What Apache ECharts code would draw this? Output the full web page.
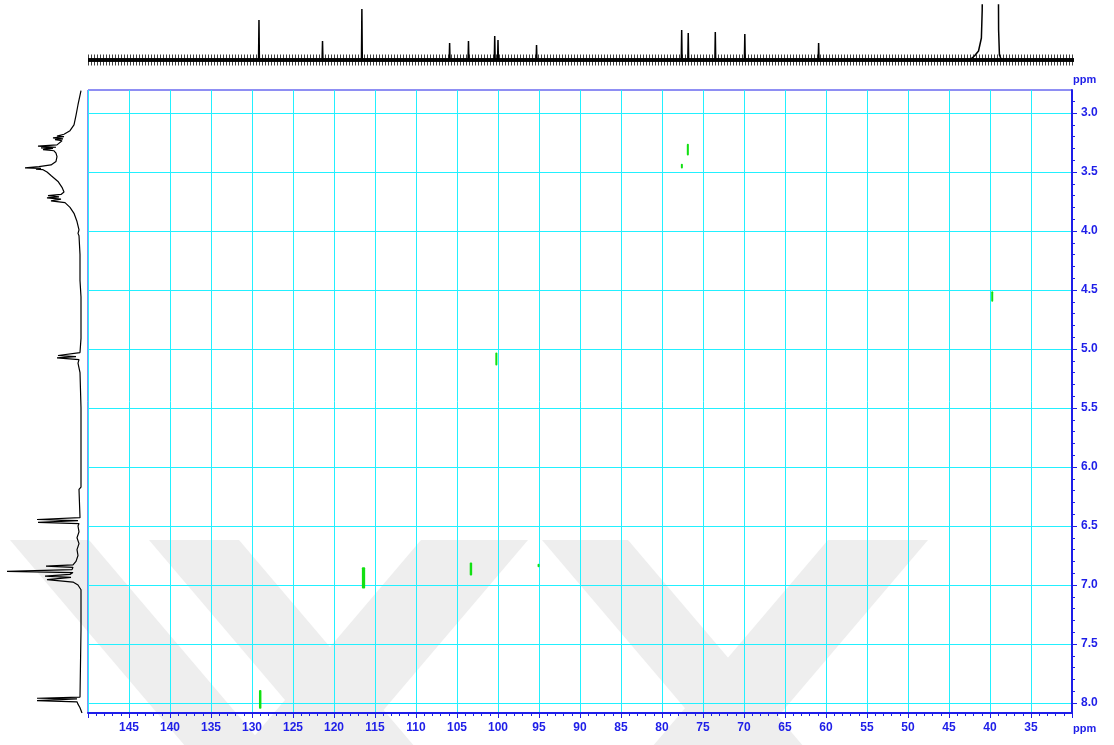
<!DOCTYPE html>
<html>
<head>
<meta charset="utf-8">
<script src="https://cdn.jsdelivr.net/npm/echarts@6/dist/echarts.min.js"></script>
<style>
  html, body { margin: 0; padding: 0; background: #fff; }
  #chart { width: 1114px; height: 745px; }
</style>
</head>
<body>
<div id="chart"></div>
<script>
// 13C projection (top): peak positions (ppm) and heights (arbitrary units)
const C13_PEAK_PPM = [129.15, 121.4, 116.6, 105.9, 103.6, 100.4, 100.0, 95.3, 77.6, 76.8, 73.5, 69.9, 60.9];
const C13_PEAK_HEIGHT = [40, 19, 51, 17, 19, 24, 20, 15, 30, 27, 28, 26, 17];
// solvent (DMSO) envelope, clipped at the top
const C13_SOLVENT = [[42.5, 0], [41.9, 4], [41.4, 9], [41.05, 22], [40.95, 50], [40.9, 120], [39.0, 120], [38.95, 30], [38.85, 5], [38.6, 0]];

// 1H projection (left): [ppm, intensity]
const H1_TRACE = [
  [2.81, 0], [2.93, 3], [3.02, 5], [3.10, 7], [3.15, 11], [3.18, 17], [3.195, 24], [3.20, 17], [3.21, 28],
  [3.22, 18], [3.225, 26], [3.235, 19], [3.25, 19], [3.27, 24], [3.28, 43], [3.29, 25], [3.295, 40],
  [3.30, 28], [3.31, 38], [3.32, 27], [3.34, 25], [3.37, 24], [3.41, 25], [3.44, 30], [3.455, 42],
  [3.465, 56], [3.47, 40], [3.475, 45], [3.48, 38], [3.50, 34], [3.53, 30], [3.58, 23], [3.63, 19],
  [3.67, 17], [3.69, 20], [3.70, 33], [3.71, 22], [3.72, 34], [3.73, 20], [3.745, 30], [3.76, 16],
  [3.80, 11], [3.85, 7], [3.92, 4], [3.99, 2], [4.02, 3], [4.03, 5], [4.04, 2], [4.20, 1], [4.42, 1],
  [4.56, 0], [4.89, 0], [4.90, 2], [4.91, 0], [5.03, 1], [5.055, 23], [5.065, 5], [5.075, 24], [5.09, 2],
  [5.12, 3], [5.20, 1], [5.50, 0], [6.17, 0], [6.19, 2], [6.20, 0], [6.43, 1], [6.445, 44], [6.455, 3],
  [6.47, 43], [6.48, 2], [6.50, 3], [6.55, 2], [6.60, 4], [6.65, 2], [6.70, 4], [6.75, 3], [6.80, 5],
  [6.83, 8], [6.84, 35], [6.85, 8], [6.87, 9], [6.885, 74], [6.895, 8], [6.91, 11], [6.925, 36],
  [6.935, 10], [6.955, 34], [6.965, 33], [6.975, 8], [7.00, 3], [7.04, 0], [7.38, 0], [7.385, 2],
  [7.39, 0], [7.95, 1], [7.96, 44], [7.965, 4], [7.98, 44], [7.99, 4], [8.01, 3], [8.04, 1], [8.085, -1]
];

// HSQC cross peaks: 13C centre, 13C width, 1H top, 1H bottom (ppm)
const HSQC_C = [76.85, 77.6, 39.75, 100.2, 116.4, 103.3, 95.1, 129.0];
const HSQC_C_WIDTH = [0.25, 0.2, 0.2, 0.25, 0.4, 0.3, 0.15, 0.3];
const HSQC_H_TOP = [3.26, 3.43, 4.51, 5.03, 6.85, 6.81, 6.82, 7.89];
const HSQC_H_BOTTOM = [3.36, 3.47, 4.60, 5.14, 7.03, 6.92, 6.85, 8.05];

// axis ticks
const H_TICKS = [3.0, 3.5, 4.0, 4.5, 5.0, 5.5, 6.0, 6.5, 7.0, 7.5, 8.0];
const C_RANGE = [30, 150];
const H_RANGE = [2.805, 8.085];

const BLUE = '#1e1ee8';
const CYAN = '#22f0ff';
const LABEL_FONT = { color: BLUE, fontWeight: 'bold', fontSize: 12, fontFamily: 'Liberation Sans, Arial, sans-serif' };

var hMinor = [];
for (var i = 29; i <= 80; i++) hMinor.push(Math.round(i) / 10);

// build spike trace for the 13C projection
var c13Line = [[150, 0]];
C13_PEAK_PPM.forEach(function (p, k) {
  c13Line.push([p + 0.05, 0], [p, C13_PEAK_HEIGHT[k]], [p - 0.05, 0]);
});
c13Line.push([29.7, 0]);

var hsqcData = HSQC_C.map(function (c, k) {
  return [c, HSQC_C_WIDTH[k], HSQC_H_TOP[k], HSQC_H_BOTTOM[k]];
});

var h1Data = H1_TRACE.map(function (d) { return [d[1], d[0]]; });

// faint watermark stripes
var wm = [
  [[10, 540], [89, 540], [276, 760], [197, 760]],
  [[149, 540], [239, 540], [426, 760], [336, 760]],
  [[421, 540], [528, 540], [341, 760], [234, 760]],
  [[542, 540], [628, 540], [815, 760], [729, 760]],
  [[828, 540], [928, 540], [741, 760], [641, 760]]
];

var chart = echarts.init(document.getElementById('chart'));

var option = {
  animation: false,
  backgroundColor: '#ffffff',
  graphic: wm.map(function (pts) {
    return { type: 'polygon', z: -10, shape: { points: pts }, style: { fill: '#eeeeee' } };
  }).concat([
    { type: 'text', left: 1073, top: 74, z: 10, style: { text: 'ppm', fill: BLUE, font: 'bold 11px Liberation Sans, Arial, sans-serif' } },
    { type: 'text', left: 1073, top: 723, z: 10, style: { text: 'ppm', fill: BLUE, font: 'bold 11px Liberation Sans, Arial, sans-serif' } }
  ]),
  grid: [
    { left: 88, top: 90, right: 42, bottom: 32, show: true, borderColor: BLUE, borderWidth: 1 },
    { left: 88, top: 5, width: 984, height: 63 },
    { left: 0, top: 90, width: 88, height: 623 }
  ],
  xAxis: [
    {
      gridIndex: 0, type: 'value', min: C_RANGE[0], max: C_RANGE[1], interval: 5, inverse: true,
      axisLine: { onZero: false, lineStyle: { color: BLUE, width: 2 } },
      axisTick: { length: 5, lineStyle: { color: BLUE } },
      minorTick: { show: true, splitNumber: 5, length: 3, lineStyle: { color: BLUE } },
      splitLine: { show: true, lineStyle: { color: CYAN, width: 1 } },
      axisLabel: Object.assign({ margin: 9, showMinLabel: false, showMaxLabel: false }, LABEL_FONT)
    },
    { gridIndex: 1, type: 'value', min: C_RANGE[0], max: C_RANGE[1], inverse: true, show: false },
    { gridIndex: 2, type: 'value', min: -7, max: 81, inverse: true, show: false }
  ],
  yAxis: [
    {
      gridIndex: 0, type: 'value', min: H_RANGE[0], max: H_RANGE[1], inverse: true, position: 'right',
      axisLine: { onZero: false, lineStyle: { color: BLUE, width: 2 } },
      axisTick: { length: 5, customValues: H_TICKS, lineStyle: { color: BLUE } },
      splitLine: { show: true, lineStyle: { color: CYAN, width: 1 } },
      axisLabel: Object.assign({
        margin: 9, customValues: H_TICKS,
        formatter: function (v) { return v.toFixed(1); }
      }, LABEL_FONT)
    },
    {
      gridIndex: 0, type: 'value', min: H_RANGE[0], max: H_RANGE[1], inverse: true, position: 'right',
      axisLine: { show: false, onZero: false },
      axisTick: { length: 3, customValues: hMinor, lineStyle: { color: BLUE } },
      axisLabel: { show: false },
      splitLine: { show: false }
    },
    { gridIndex: 1, type: 'value', min: -8, max: 55, show: false },
    { gridIndex: 2, type: 'value', min: H_RANGE[0], max: H_RANGE[1], inverse: true, show: false }
  ],
  series: [
    {
      name: 'HSQC',
      type: 'custom',
      xAxisIndex: 0, yAxisIndex: 0,
      data: hsqcData,
      renderItem: function (params, api) {
        var c = api.value(0), w = api.value(1);
        var p1 = api.coord([c + w / 2, api.value(2)]);
        var p2 = api.coord([c - w / 2, api.value(3)]);
        return {
          type: 'rect',
          shape: {
            x: Math.min(p1[0], p2[0]), y: Math.min(p1[1], p2[1]),
            width: Math.max(2, Math.abs(p2[0] - p1[0])), height: Math.abs(p2[1] - p1[1]), r: 1
          },
          style: { fill: '#12e012' }
        };
      }
    },
    {
      // noise band of the 13C trace: solid core plus a fine comb
      name: '13C noise',
      type: 'line', xAxisIndex: 1, yAxisIndex: 2,
      data: [[150, 0], [29.7, 0]],
      symbol: 'none',
      lineStyle: { color: '#111', width: 4 }
    },
    {
      name: '13C noise comb',
      type: 'line', xAxisIndex: 1, yAxisIndex: 2,
      data: [[150, 0], [29.7, 0]],
      symbol: 'none',
      lineStyle: { color: '#000', width: 11, type: [1, 2], opacity: 0.75 }
    },
    {
      name: '13C',
      type: 'line', xAxisIndex: 1, yAxisIndex: 2,
      data: c13Line,
      symbol: 'none',
      lineStyle: { color: '#000', width: 1.5 }
    },
    {
      name: 'solvent',
      type: 'line', xAxisIndex: 1, yAxisIndex: 2,
      data: C13_SOLVENT,
      symbol: 'none',
      lineStyle: { color: '#000', width: 1.5 }
    },
    {
      name: '1H',
      type: 'line', xAxisIndex: 2, yAxisIndex: 3,
      data: h1Data,
      symbol: 'none',
      lineStyle: { color: '#000', width: 1.2 }
    }
  ]
};

chart.setOption(option);
</script>
</body>
</html>
